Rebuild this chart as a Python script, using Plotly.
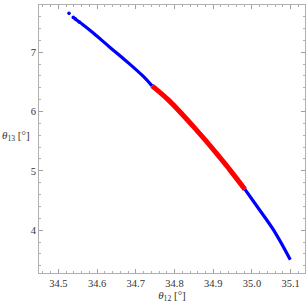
import plotly.graph_objects as go

# Values
blue_top_x = [34.5430, 34.5541, 34.5611, 34.5903, 34.6335, 34.6766, 34.7195, 34.742]
blue_top_y = [7.564, 7.508, 7.474, 7.322, 7.079, 6.842, 6.590, 6.432]
sparse_x = [34.5275, 34.5386, 34.5430, 34.5541]
sparse_y = [7.653, 7.585, 7.564, 7.508]
red_x = [34.742, 34.784, 34.849, 34.916, 34.942, 34.982]
red_y = [6.432, 6.195, 5.744, 5.237, 5.025, 4.687]
blue_bot_x = [34.982, 35.017, 35.056, 35.099]
blue_bot_y = [4.687, 4.366, 4.000, 3.504]

x_ticks = [34.5, 34.6, 34.7, 34.8, 34.9, 35.0, 35.1]
y_ticks = [4, 5, 6, 7]

BLUE = "#0000ff"
RED = "#ff0000"
FONT = "Liberation Serif"

fig = go.Figure()
fig.add_trace(go.Scatter(x=blue_top_x, y=blue_top_y, mode="lines",
                         line=dict(color=BLUE, width=3.2, shape="spline", smoothing=1.0), hoverinfo="skip"))
fig.add_trace(go.Scatter(x=sparse_x, y=sparse_y, mode="markers",
                         marker=dict(color=BLUE, size=3.6, line=dict(width=0)), hoverinfo="skip"))
fig.add_trace(go.Scatter(x=blue_bot_x, y=blue_bot_y, mode="lines",
                         line=dict(color=BLUE, width=3.2, shape="spline", smoothing=1.0), hoverinfo="skip"))
fig.add_trace(go.Scatter(x=red_x, y=red_y, mode="lines",
                         line=dict(color=RED, width=5, shape="spline", smoothing=1.0), hoverinfo="skip"))

axis_common = dict(
    showline=True, linecolor="#b0b0b0", linewidth=1, mirror="ticks",
    ticks="inside", ticklen=4, tickcolor="#a0a0a0", tickwidth=1,
    showgrid=False, zeroline=False, automargin=False,
    tickfont=dict(family=FONT, size=10.5, color="#333333"),
)

fig.update_xaxes(range=[34.45, 35.137], tickvals=x_ticks, tickformat=".1f",
                 minor=dict(dtick=0.02, ticks="inside", ticklen=2, tickcolor="#b0b0b0"),
                 title=dict(text="<i>θ</i><sub>12</sub> [°]", font=dict(family=FONT, size=11, color="#333333"),
                            standoff=2),
                 **axis_common)
fig.update_yaxes(range=[3.279, 7.794], tickvals=y_ticks,
                 minor=dict(dtick=0.2, ticks="inside", ticklen=2, tickcolor="#b0b0b0"),
                 **axis_common)

fig.add_annotation(text="<i>θ</i><sub>13</sub> [°]", xref="paper", yref="paper",
                   x=-0.147, y=0.51, xanchor="left", yanchor="middle", showarrow=False,
                   font=dict(family=FONT, size=11, color="#333333"))

fig.update_layout(width=306, height=306, margin=dict(l=39, r=1, t=5, b=33),
                  plot_bgcolor="white", paper_bgcolor="white", showlegend=False)

fig.write_html("out.html", config={"displayModeBar": False},
               post_script="document.body.style.margin='0';document.body.style.overflow='hidden';")
